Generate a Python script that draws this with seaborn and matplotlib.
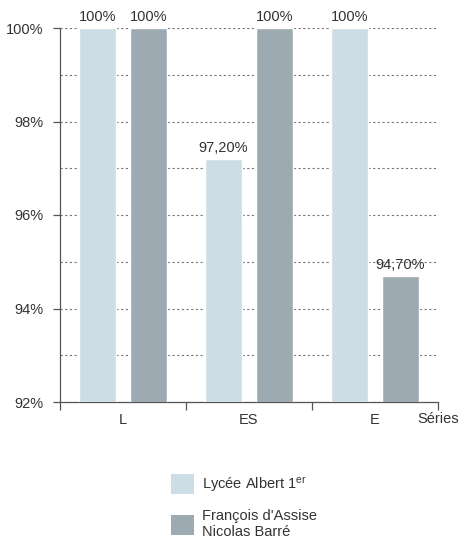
import matplotlib
matplotlib.use("Agg")
import matplotlib.pyplot as plt
from matplotlib.patches import Patch
import seaborn as sns
import pandas as pd

series = ["L", "ES", "E"]
schools = ["Lycée Albert 1$^{\\mathrm{er}}$", "François d'Assise\nNicolas Barré"]
lycee_albert = [100.0, 97.2, 100.0]
francois_assise = [100.0, 100.0, 94.7]
value_labels_albert = ["100%", "97,20%", "100%"]
value_labels_francois = ["100%", "100%", "94,70%"]
y_ticks = [92, 94, 96, 98, 100]
y_tick_labels = ["92%", "94%", "96%", "98%", "100%"]

colors = ["#cddde5", "#9eaab2"]
text_color = "#333333"
fs = 10.5

sns.set_theme(style="white")
plt.rcParams["font.family"] = ["Liberation Sans", "DejaVu Sans"]
plt.rcParams["mathtext.fontset"] = "custom"
plt.rcParams["mathtext.rm"] = "Liberation Sans"
plt.rcParams["mathtext.it"] = "Liberation Sans"

df = pd.DataFrame({
    "serie": series * 2,
    "ecole": [schools[0]] * 3 + [schools[1]] * 3,
    "taux": lycee_albert + francois_assise,
})

fig = plt.figure(figsize=(4.59, 5.45), dpi=100)
ax = fig.add_axes([60 / 459, 1 - 402 / 545, 378 / 459, 374 / 545])

sns.barplot(data=df, x="serie", y="taux", hue="ecole", order=series,
            hue_order=schools, palette=colors, width=0.81, gap=0.275,
            saturation=1, legend=False, ax=ax, zorder=3)

for container, labels in zip(ax.containers, [value_labels_albert, value_labels_francois]):
    ax.bar_label(container, labels=labels, padding=3, fontsize=fs,
                 color=text_color, zorder=4)

ax.set_ylim(92, 100)
ax.set_xlim(-0.5, 2.5)
ax.set_yticks(y_ticks)
ax.set_yticklabels(y_tick_labels)
ax.set_yticks([93, 95, 97, 99], minor=True)
ax.grid(True, which="both", axis="y", linestyle=(0, (2, 2.2)),
        color="#777777", linewidth=0.8, zorder=0)
ax.grid(False, axis="x")

# Category boundaries carry the tick marks, centres carry the labels
ax.set_xticks([-0.5, 0.5, 1.5, 2.5])
ax.set_xticklabels([])
ax.set_xticks([0, 1, 2], minor=True)
ax.set_xticklabels(series, minor=True)
ax.tick_params(axis="x", which="major", direction="out", length=6,
               width=0.9, color="#555555", bottom=True)
ax.tick_params(axis="x", which="minor", length=0, pad=8,
               labelsize=fs, labelcolor=text_color)
ax.tick_params(axis="y", which="major", direction="out", length=5,
               width=0.9, color="#555555", left=True, pad=7,
               labelsize=fs, labelcolor=text_color)
ax.tick_params(axis="y", which="minor", length=0)

ax.set_xlabel("")
ax.set_ylabel("")
for side in ["top", "right"]:
    ax.spines[side].set_visible(False)
for side in ["left", "bottom"]:
    ax.spines[side].set_color("#555555")
    ax.spines[side].set_linewidth(0.9)

ax.annotate("Séries", xy=(1, 0), xycoords="axes fraction",
            xytext=(0, -12.5), textcoords="offset points",
            ha="center", va="center", fontsize=fs, color=text_color)

handles = [Patch(facecolor=c, edgecolor="none") for c in colors]
fig.legend(handles, schools, loc="upper left",
           bbox_to_anchor=(158 / 459, 1 - 461 / 545), frameon=False,
           fontsize=fs, handlelength=1.6, handleheight=1.75,
           labelspacing=1.0, handletextpad=0.5, labelcolor=text_color)

fig.savefig("out.png", dpi=100)
